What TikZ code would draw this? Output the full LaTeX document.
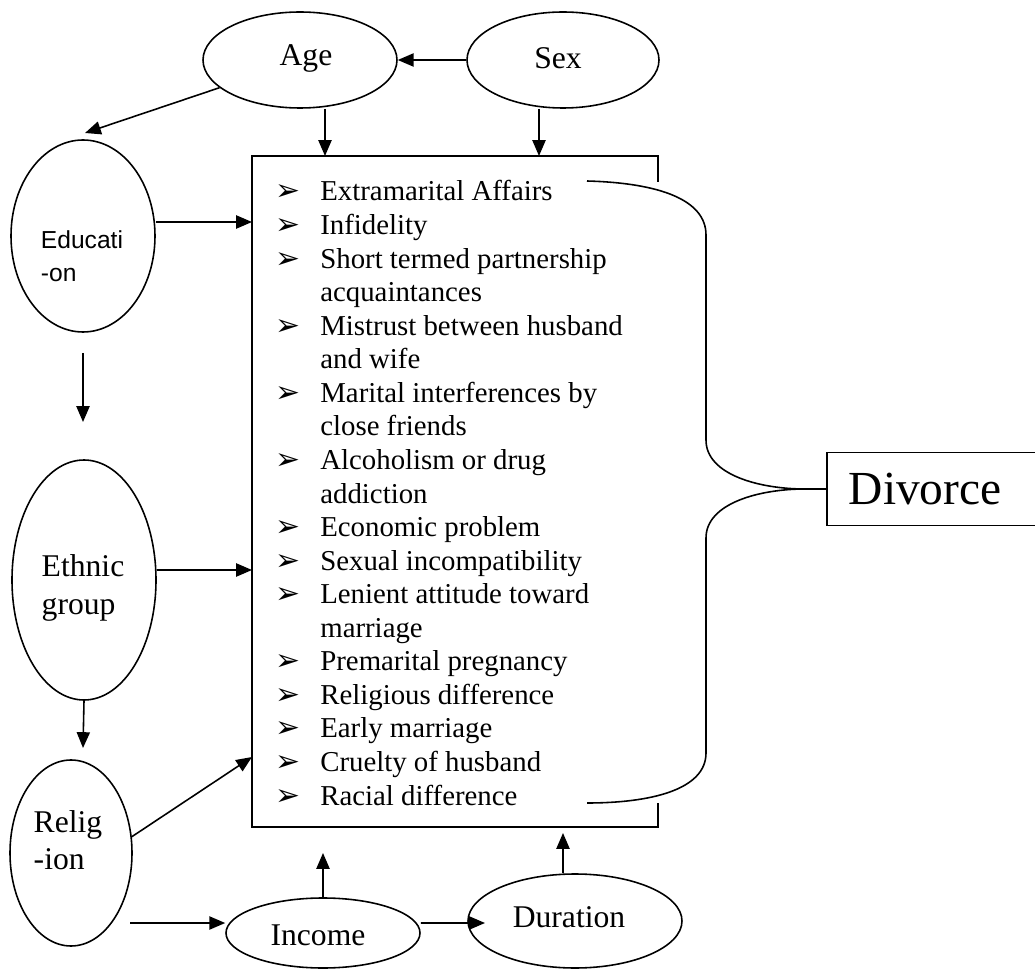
\documentclass[tikz,border=0pt]{standalone}
\usepackage{fontspec}
\setmainfont{Liberation Serif}
\newfontfamily\edufont{Liberation Sans}
\newfontfamily\arrowfont{DejaVu Sans}
\usetikzlibrary{shapes.geometric,arrows.meta}

\newcommand{\bulletArrow}{\makebox[0.9cm][l]{\arrowfont\fontsize{17}{17}\selectfont ➢}}

\begin{document}
\begin{tikzpicture}[x=0.02cm, y=-0.02cm,
  factor/.style={ellipse, draw, line width=0.9pt, inner sep=0pt},
  factorText/.style={align=left, inner sep=0pt, font=\fontsize{18}{21}\selectfont},
  arr/.style={-{Triangle[length=9pt, width=7.5pt]}, line width=0.9pt},
  rim/.style={line width=0.9pt}]

%─────────────
% Page (pixel grid of the scan)
%─────────────
\useasboundingbox (0,0) rectangle (1035,969);

%───────────────────────────────────────────────────────
% Command to draw one factor ellipse with its label
% - [#1] = extra label style
% - #2 = name, (#3,#4) = centre, #5/#6 = half axes
% - (#7,#8) = label position, #9 = label
%───────────────────────────────────────────────────────
\newcommand{\drawFactor}[9][]{%
  \node[factor, minimum width={2*#5*0.02cm}, minimum height={2*#6*0.02cm}] (#2) at (#3,#4) {};
  \node[factorText, #1] (#2Text) at (#7,#8) {#9};
}

\drawFactor{age}{300}{60}{97}{48}{306}{58}{Age}
\drawFactor{sex}{563}{60}{96}{48}{558}{58}{Sex}
\drawFactor[font=\edufont\fontsize{14}{19}\selectfont]{edu}{83}{236}{72}{96}{82}{256}{Educati\\-on}
\drawFactor[font=\fontsize{18}{22}\selectfont]{eth}{84}{580}{72}{120}{83}{588}{Ethnic\\group}
\drawFactor{rel}{71}{853}{61}{93}{68}{840}{Relig\\-ion}
\drawFactor{inc}{323}{933}{97}{35}{318}{935}{Income}
\drawFactor{dur}{575}{921}{107}{47}{569}{917}{Duration}

%─────────────
% Box of causes (right side left open for the brace)
%─────────────
\coordinate (boxNW) at (252,156);
\coordinate (boxNE) at (658,156);
\coordinate (boxSW) at (252,827);
\coordinate (boxSE) at (658,827);
\coordinate (boxNEcut) at (658,182);
\coordinate (boxSEcut) at (658,803);
\draw[rim] (boxNEcut) -- (boxNE) -- (boxNW) -- (boxSW) -- (boxSE) -- (boxSEcut);

\node[anchor=base west, inner sep=0pt, font=\fontsize{16.4}{19.1}\selectfont] (causes) at (275,201) {%
  \begin{tabular}[t]{@{}l@{}l@{}}
  \bulletArrow & Extramarital Affairs\\
  \bulletArrow & Infidelity\\
  \bulletArrow & Short termed partnership\\
               & acquaintances\\
  \bulletArrow & Mistrust between husband\\
               & and wife\\
  \bulletArrow & Marital interferences by\\
               & close friends\\
  \bulletArrow & Alcoholism or drug\\
               & addiction\\
  \bulletArrow & Economic problem\\
  \bulletArrow & Sexual incompatibility\\
  \bulletArrow & Lenient attitude toward\\
               & marriage\\
  \bulletArrow & Premarital pregnancy\\
  \bulletArrow & Religious difference\\
  \bulletArrow & Early marriage\\
  \bulletArrow & Cruelty of husband\\
  \bulletArrow & Racial difference
  \end{tabular}};

%─────────────
% Outcome and brace
%─────────────
\node[draw, rim, anchor=west, minimum height=1.46cm, inner xsep=0.44cm, text width=4.5cm,
      align=left, font=\fontsize{27}{30}\selectfont] (divorce) at (826,489) {Divorce};

\coordinate (braceTop) at (587,181);
\coordinate (braceBot) at (587,803);
\coordinate (braceTip) at (805,489);
\draw[rim] (braceTop) .. controls (660,183) and (706,200) .. (706,235) -- (706,440)
  .. controls (706,475) and (760,489) .. (braceTip) -- (divorce.west);
\draw[rim] (braceTip) .. controls (760,489) and (706,503) .. (706,538) -- (706,753)
  .. controls (706,790) and (650,803) .. (braceBot);

%─────────────
% Arrows
%─────────────
\coordinate (ageEduEnd) at (85,133);
\coordinate (eduGapTop) at (83,353);
\coordinate (eduGapEnd) at (83,422);
\coordinate (relArrowEnd) at (83,748);
\coordinate (relIn) at (252,757);
\coordinate (incFrom) at (130,923);
\coordinate (incUp) at (323,853);
\coordinate (durIn) at (485,923);
\coordinate (durUp) at (563,833);

\draw[arr] (sex) -- (age);
\draw[arr] (age.199) -- (ageEduEnd);
\draw[arr] ([xshift=0.5cm]age.south) -- ([xshift=0.5cm]age.south |- boxNW);
\draw[arr] ([xshift=-0.48cm]sex.south) -- ([xshift=-0.48cm]sex.south |- boxNW);
\draw[arr] ([yshift=0.28cm]edu.east) -- ([yshift=0.28cm]edu.east -| boxNW);
\draw[arr] (eduGapTop) -- (eduGapEnd);
\draw[arr] ([yshift=0.2cm]eth.east) -- ([yshift=0.2cm]eth.east -| boxNW);
\draw[arr] (eth.south) -- (relArrowEnd);
\draw[arr] (rel.15) -- (relIn);
\draw[arr] (incFrom) -- ([yshift=0.2cm]inc.west);
\draw[arr] (inc.north) -- (incUp);
\draw[arr] ([yshift=0.2cm]inc.east) -- (durIn);
\draw[arr] ([xshift=-0.24cm]dur.north) -- (durUp);

\end{tikzpicture}
\end{document}
